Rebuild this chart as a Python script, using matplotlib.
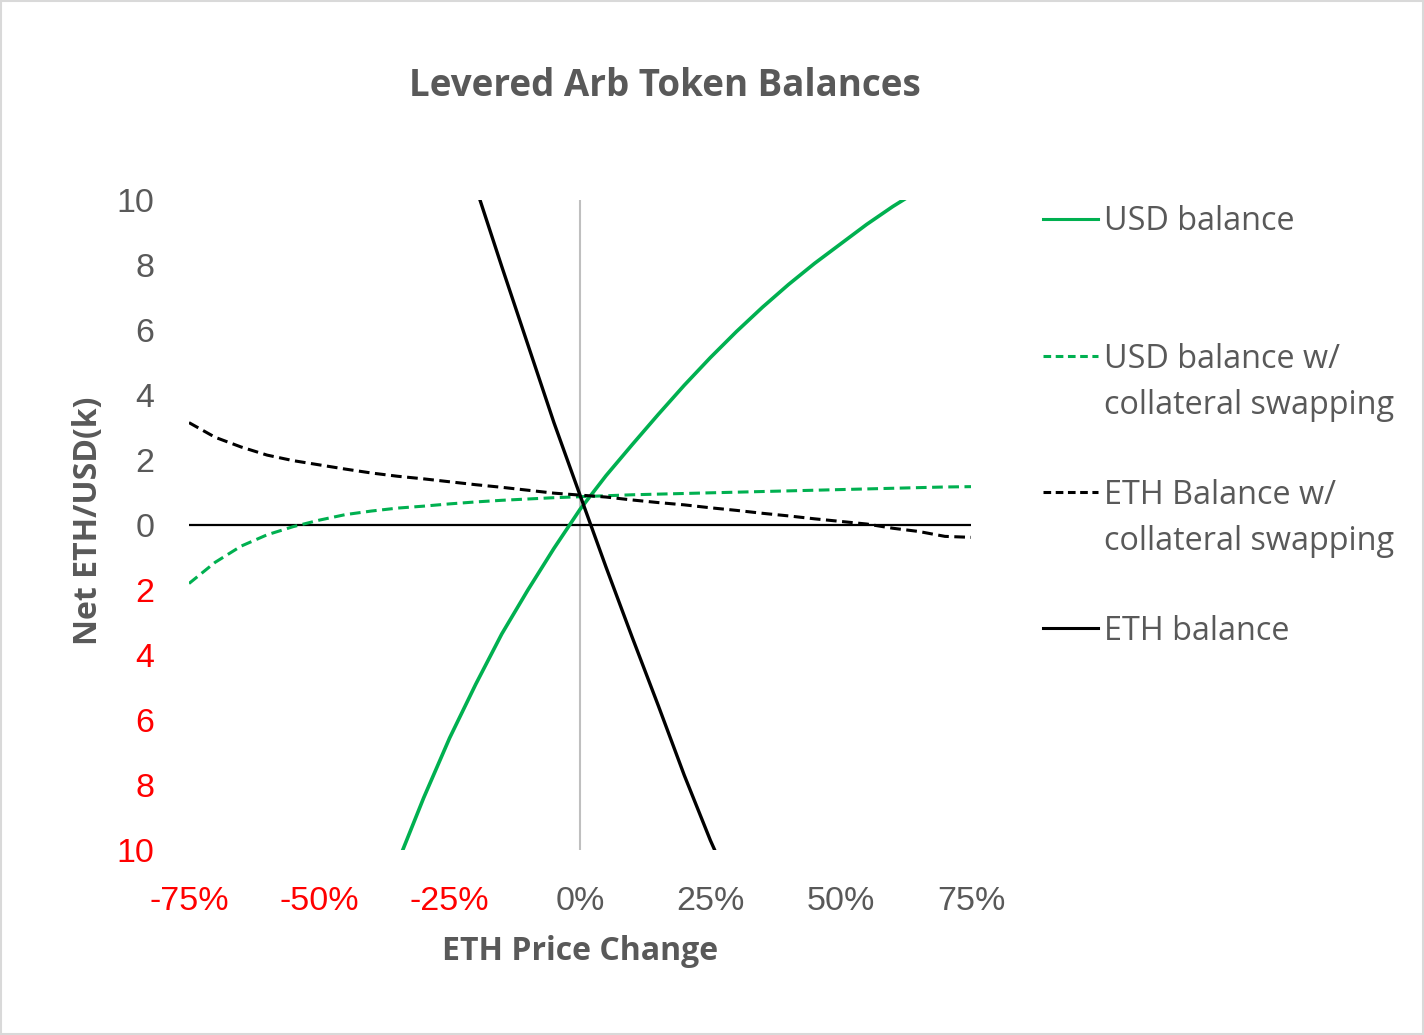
import matplotlib
matplotlib.use("Agg")
import matplotlib.pyplot as plt
from matplotlib.lines import Line2D
from matplotlib.patches import Rectangle
from matplotlib.ticker import FuncFormatter, MultipleLocator

# ETH price change (fraction) and balances (k)
usd_x = [-0.40, -0.35, -0.30, -0.25, -0.20, -0.15, -0.10, -0.05, 0.00, 0.05,
         0.10, 0.15, 0.20, 0.25, 0.30, 0.35, 0.40, 0.45, 0.50, 0.55, 0.60, 0.65]
usd_bal = [-12.5, -10.4, -8.4, -6.55, -4.9, -3.35, -2.0, -0.72, 0.48, 1.52,
           2.47, 3.4, 4.3, 5.15, 5.95, 6.7, 7.4, 8.05, 8.65, 9.25, 9.8, 10.3]

eth_x = [-0.25, -0.20, -0.15, -0.10, -0.05, 0.00, 0.05, 0.10, 0.15, 0.20, 0.25, 0.30]
eth_bal = [12.8, 10.4, 7.95, 5.55, 3.15, 0.92, -1.3, -3.45, -5.55, -7.7, -9.7, -11.5]

swap_x = [-0.75, -0.70, -0.65, -0.60, -0.55, -0.50, -0.45, -0.40, -0.35, -0.30, -0.25,
          -0.20, -0.15, -0.10, -0.05, 0.00, 0.05, 0.10, 0.15, 0.20, 0.25, 0.30,
          0.35, 0.40, 0.45, 0.50, 0.55, 0.60, 0.65, 0.70, 0.75]
usd_swap = [-1.8, -1.15, -0.65, -0.3, -0.05, 0.15, 0.32, 0.43, 0.52, 0.58, 0.65,
            0.71, 0.76, 0.8, 0.84, 0.87, 0.9, 0.93, 0.95, 0.97, 0.99, 1.01,
            1.03, 1.05, 1.07, 1.09, 1.11, 1.13, 1.15, 1.17, 1.18]
eth_swap = [3.15, 2.7, 2.4, 2.15, 1.98, 1.85, 1.72, 1.6, 1.5, 1.42, 1.33,
            1.24, 1.16, 1.07, 0.98, 0.92, 0.86, 0.77, 0.69, 0.62, 0.53, 0.45,
            0.36, 0.28, 0.19, 0.11, 0.03, -0.1, -0.2, -0.35, -0.38]

labels = ["USD balance", "USD balance w/\ncollateral swapping",
          "ETH Balance w/\ncollateral swapping", "ETH balance"]

GREEN = "#00B050"
GRAY = "#595959"
RED = "#FF0000"
text_font = ["Open Sans", "DejaVu Sans"]
tick_font = ["Liberation Sans", "DejaVu Sans"]

fig = plt.figure(figsize=(14.24, 10.35), dpi=100)
ax = fig.add_axes([189 / 1424, 1 - 850 / 1035, 782 / 1424, 650 / 1035])

ax.axvline(0, color="#BFBFBF", lw=1.5, zorder=1)
ax.axhline(0, color="black", lw=1.6, zorder=1)

ax.plot(usd_x, usd_bal, color=GREEN, lw=2.6, zorder=3)
ax.plot(swap_x, usd_swap, color=GREEN, lw=2.2, dashes=(3.5, 1.8), zorder=3)
ax.plot(swap_x, eth_swap, color="black", lw=2.2, dashes=(3.5, 1.8), zorder=3)
ax.plot(eth_x, eth_bal, color="black", lw=2.4, zorder=3)

ax.set_xlim(-0.75, 0.75)
ax.set_ylim(-10, 10)
for s in ax.spines.values():
    s.set_visible(False)

ax.xaxis.set_major_locator(MultipleLocator(0.25))
ax.yaxis.set_major_locator(MultipleLocator(2))
ax.xaxis.set_major_formatter(FuncFormatter(lambda v, p: f"{v * 100:.0f}%"))
ax.yaxis.set_major_formatter(FuncFormatter(lambda v, p: f"{abs(v):.0f}"))
ax.tick_params(length=0, labelsize=24.5)
ax.tick_params(axis="y", pad=25)
ax.tick_params(axis="x", pad=26)
fig.canvas.draw()
for lab, v in zip(ax.get_xticklabels(), ax.get_xticks()):
    lab.set_family(tick_font)
    lab.set_color(RED if v < -1e-9 else GRAY)
for lab, v in zip(ax.get_yticklabels(), ax.get_yticks()):
    lab.set_family(tick_font)
    lab.set_color(RED if v < -1e-9 else GRAY)

fig.text(665 / 1424, 1 - 86 / 1035, "Levered Arb Token Balances", ha="center", va="center",
         fontsize=26.5, fontweight="bold", color=GRAY, family=text_font)
fig.text(88 / 1424, 1 - 521 / 1035, "Net ETH/USD(k)", rotation=90, ha="center", va="center",
         fontsize=23, fontweight="bold", color=GRAY, family=text_font)
fig.text(580 / 1424, 1 - 952 / 1035, "ETH Price Change", ha="center", va="center",
         fontsize=23, fontweight="bold", color=GRAY, family=text_font)

# legend, drawn by hand to match the Excel layout
styles = [(GREEN, None), (GREEN, (2.5, 1.5)), ("black", (2.5, 1.5)), ("black", None)]
rows = [219, 356, 492, 628]
for (col, dash), y0, lab in zip(styles, rows, labels):
    yf = 1 - y0 / 1035
    ln = Line2D([1043 / 1424, 1098 / 1424], [yf, yf], color=col, lw=2.2, transform=fig.transFigure)
    if dash:
        ln.set_dashes(dash)
    fig.add_artist(ln)
    for i, part in enumerate(lab.split("\n")):
        fig.text(1104 / 1424, 1 - (y0 + 3 + 46 * i) / 1035, part, ha="left", va="center",
                 fontsize=23.3, color=GRAY, family=text_font)

fig.add_artist(Rectangle((0.0005, 0.0005), 0.999, 0.999, transform=fig.transFigure,
                         fill=False, edgecolor="#D9D9D9", lw=1.5))

fig.savefig("out.png", dpi=100)
